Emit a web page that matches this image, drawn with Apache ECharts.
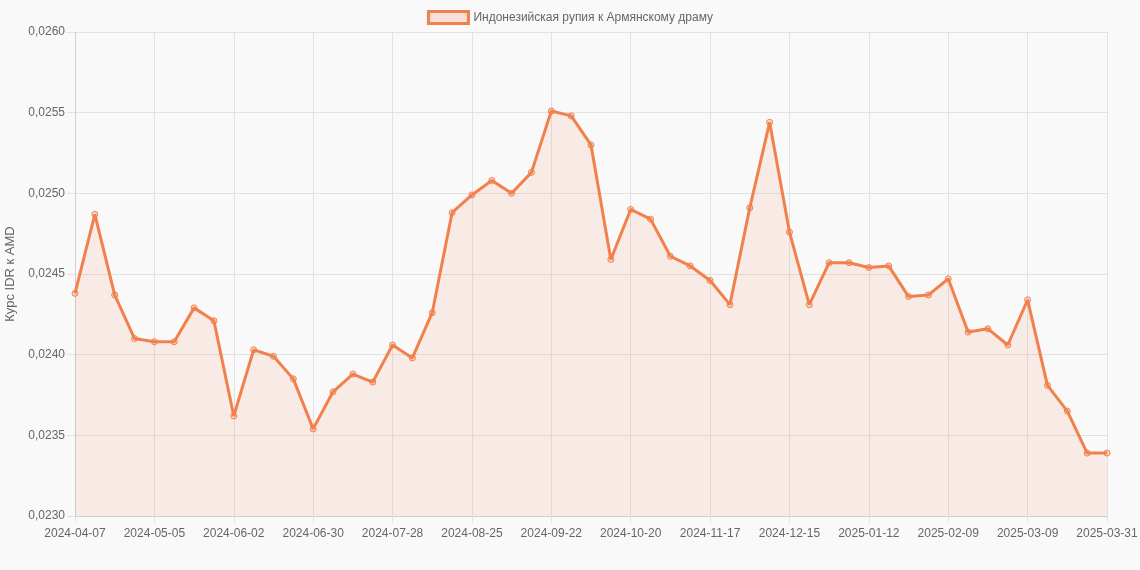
<!DOCTYPE html>
<html>
<head>
<meta charset="utf-8">
<title>IDR к AMD</title>
<script src="https://cdn.jsdelivr.net/npm/echarts@6/dist/echarts.min.js"></script>
<style>
  html, body { margin: 0; padding: 0; background: #f9f9f9; }
  #chart { width: 1140px; height: 570px; }
</style>
</head>
<body>
<div id="chart"></div>
<script>
// Даты (по неделям)
const dates = [
    "2024-04-07", "2024-04-14", "2024-04-21", "2024-04-28", "2024-05-05", "2024-05-12",
    "2024-05-19", "2024-05-26", "2024-06-02", "2024-06-09", "2024-06-16", "2024-06-23",
    "2024-06-30", "2024-07-07", "2024-07-14", "2024-07-21", "2024-07-28", "2024-08-04",
    "2024-08-11", "2024-08-18", "2024-08-25", "2024-09-01", "2024-09-08", "2024-09-15",
    "2024-09-22", "2024-09-29", "2024-10-06", "2024-10-13", "2024-10-20", "2024-10-27",
    "2024-11-03", "2024-11-10", "2024-11-17", "2024-11-24", "2024-12-01", "2024-12-08",
    "2024-12-15", "2024-12-22", "2024-12-29", "2025-01-05", "2025-01-12", "2025-01-19",
    "2025-01-26", "2025-02-02", "2025-02-09", "2025-02-16", "2025-02-23", "2025-03-02",
    "2025-03-09", "2025-03-16", "2025-03-23", "2025-03-30", "2025-03-31"
];

// Курс IDR к AMD
const rates = [
    0.02438, 0.02487, 0.02437, 0.02410, 0.02408, 0.02408,
    0.02429, 0.02421, 0.02362, 0.02403, 0.02399, 0.02385,
    0.02354, 0.02377, 0.02388, 0.02383, 0.02406, 0.02398,
    0.02426, 0.02488, 0.02499, 0.02508, 0.02500, 0.02513,
    0.02551, 0.02548, 0.02530, 0.02459, 0.02490, 0.02484,
    0.02461, 0.02455, 0.02446, 0.02431, 0.02491, 0.02544,
    0.02476, 0.02431, 0.02457, 0.02457, 0.02454, 0.02455,
    0.02436, 0.02437, 0.02447, 0.02414, 0.02416, 0.02406,
    0.02434, 0.02381, 0.02365, 0.02339, 0.02339
];

const seriesName = "Индонезийская рупия к Армянскому драму";
const lineColor = "#f2804c";
const gridColor = "#e2e2e2";
const textColor = "#666";

// показываем каждую 4-ю дату и последнюю
function showLabel(index) {
    return index % 4 === 0 || index === dates.length - 1;
}

const chart = echarts.init(document.getElementById("chart"));
chart.setOption({
    backgroundColor: "#f9f9f9",
    textStyle: { fontFamily: "Liberation Sans, Arial, sans-serif" },
    legend: {
        top: 5,
        left: "center",
        itemWidth: 40,
        itemHeight: 12,
        itemGap: 10,
        icon: "rect",
        textStyle: { color: textColor, fontSize: 12 },
        data: [{
            name: seriesName,
            itemStyle: { color: "rgba(242,128,76,0.2)", borderColor: lineColor, borderWidth: 3 }
        }]
    },
    grid: { left: 75, right: 33, top: 32, bottom: 54, outerBoundsMode: "none" },
    xAxis: {
        type: "category",
        boundaryGap: false,
        data: dates,
        axisLine: { show: true, lineStyle: { color: "#cfcfcf" } },
        axisTick: { show: true, length: 7, interval: showLabel, lineStyle: { color: gridColor } },
        axisLabel: { interval: showLabel, color: textColor, fontSize: 12, margin: 12 },
        splitLine: { show: true, interval: showLabel, lineStyle: { color: gridColor } }
    },
    yAxis: {
        type: "value",
        min: 0.023,
        max: 0.026,
        interval: 0.0005,
        name: "Курс IDR к AMD",
        nameLocation: "middle",
        nameGap: 55,
        nameTextStyle: { color: textColor, fontSize: 13 },
        axisLine: { show: true, lineStyle: { color: "#cfcfcf" } },
        axisTick: { show: true, length: 8, lineStyle: { color: gridColor } },
        axisLabel: {
            color: textColor,
            fontSize: 12,
            margin: 10,
            formatter: v => v.toFixed(4).replace(".", ",")
        },
        splitLine: { show: true, lineStyle: { color: gridColor } }
    },
    series: [{
        name: seriesName,
        type: "line",
        data: rates,
        symbol: "circle",
        symbolSize: 6,
        showAllSymbol: true,
        lineStyle: { color: lineColor, width: 3 },
        itemStyle: { color: "rgba(242,128,76,0.25)", borderColor: lineColor, borderWidth: 1 },
        areaStyle: { color: "rgba(242,128,76,0.16)", origin: "start" },
        emphasis: { disabled: true },
        animation: false
    }]
});
</script>
</body>
</html>
